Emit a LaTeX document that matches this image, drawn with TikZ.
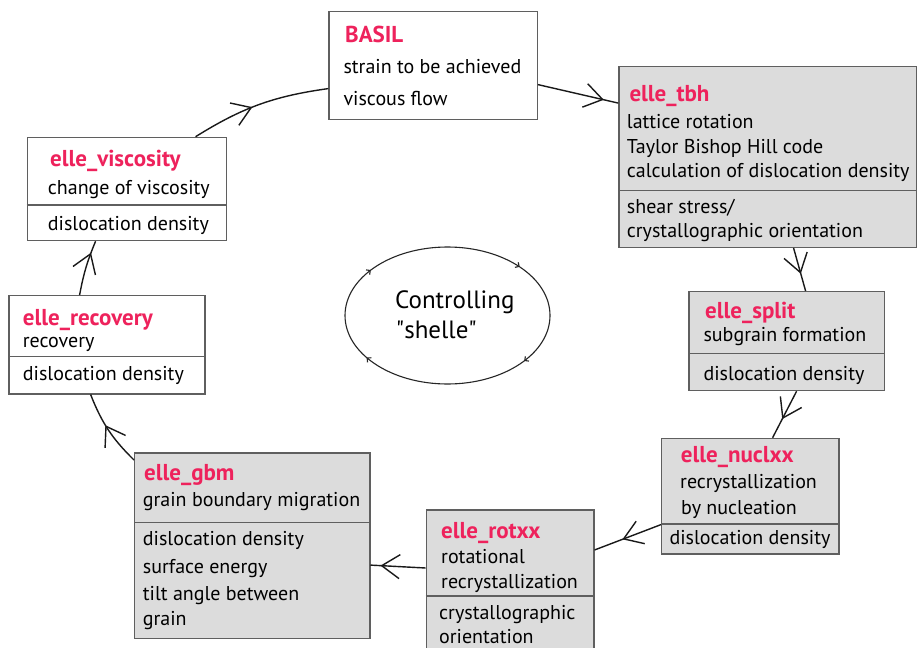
\documentclass[tikz,border=0pt]{standalone}
\usepackage{fontspec}
\setmainfont{PT Sans}
\usetikzlibrary{arrows.meta,decorations.markings,calc}
\newcommand\myquote{\XeTeXglyph\XeTeXcharglyph"22\relax}
\definecolor{pinkred}{RGB}{238,34,92}
\definecolor{boxgray}{RGB}{220,220,220}
\definecolor{edgegray}{RGB}{95,95,95}
\tikzset{
  box/.style={draw=edgegray, line width=1.2pt, inner sep=0pt, anchor=north west},
  divline/.style={draw=edgegray, line width=1.2pt},
  txt/.style={anchor=base west, inner sep=0pt, text=black, font=\fontsize{20}{24}\selectfont},
  ttl/.style={anchor=base west, inner sep=0pt, text=pinkred, font=\bfseries\fontsize{23}{27}\selectfont},
  bigtxt/.style={anchor=base west, inner sep=0pt, text=black, font=\fontsize{25}{29}\selectfont},
  conn/.style={line width=1.4pt, draw=black!90},
  flowmark/.style={postaction={decorate}, decoration={markings, mark=at position #1 with {\arrow{Straight Barb[length=18pt,width=24pt]}}}},
  ellmark/.style={postaction={decorate}, decoration={markings,
     mark=at position 0.10 with {\arrow{Straight Barb[length=3pt,width=6pt]}},
     mark=at position 0.41 with {\arrow{Straight Barb[length=3pt,width=6pt]}},
     mark=at position 0.60 with {\arrow{Straight Barb[length=3pt,width=6pt]}},
     mark=at position 0.89 with {\arrow{Straight Barb[length=3pt,width=6pt]}}}},
}
\begin{document}
\begin{tikzpicture}[x=1pt,y=-1pt]
\path[use as bounding box, fill=white] (0,0) rectangle (917,647);
\begin{scope}
\clip (0,0) rectangle (917,647);
% boxes
\node[box, fill=white,   minimum width=208.4, minimum height=108.6] (basil) at (328.3,10.7) {};
\node[box, fill=boxgray, minimum width=297.7, minimum height=181]   (tbh)   at (618.3,65.7) {};
\node[box, fill=white,   minimum width=199.3, minimum height=103.3] (visc)  at (26.7,136.7) {};
\node[box, fill=white,   minimum width=196,   minimum height=98.3]  (recov) at (8.3,295) {};
\node[box, fill=boxgray, minimum width=195.7, minimum height=99]    (split) at (688.3,291) {};
\node[box, fill=boxgray, minimum width=177.3, minimum height=115.6] (nucl)  at (661,437.7) {};
\node[box, fill=boxgray, minimum width=167.6, minimum height=160]   (rotxx) at (425.7,509.3) {};
\node[box, fill=boxgray, minimum width=235.3, minimum height=185.4] (gbm)   at (134,452.3) {};
% dividers
\draw[divline] ($(tbh.north west)+(0,125)$) -- ($(tbh.north east)+(0,125)$);
\draw[divline] ($(visc.north west)+(0,68.3)$) -- ($(visc.north east)+(0,68.3)$);
\draw[divline] ($(recov.north west)+(0,61.7)$) -- ($(recov.north east)+(0,61.7)$);
\draw[divline] ($(split.north west)+(0,62.3)$) -- ($(split.north east)+(0,62.3)$);
\draw[divline] ($(nucl.north west)+(0,86.3)$) -- ($(nucl.north east)+(0,86.3)$);
\draw[divline] ($(rotxx.north west)+(0,86.7)$) -- ($(rotxx.north east)+(0,86.7)$);
\draw[divline] ($(gbm.north west)+(0,70)$) -- ($(gbm.north east)+(0,70)$);
% texts
\node[ttl] (basil1) at (345,42.7) {BASIL};
\node[txt] (basil2) at (343.3,74) {strain to be achieved};
\node[txt] (basil3) at (343.3,106) {viscous flow};
\node[ttl] (tbh1) at (629.3,101.7) {elle\_tbh};
\node[txt] (tbh2) at (626.7,128.3) {lattice rotation};
\node[txt] (tbh3) at (626.7,153.3) {Taylor Bishop Hill code};
\node[txt] (tbh4) at (626.7,177.7) {calculation of dislocation density};
\node[txt] (tbh5) at (626.7,213.3) {shear stress/};
\node[txt] (tbh6) at (626.7,237.3) {crystallographic orientation};
\node[ttl] (visc1) at (50,166.7) {elle\_viscosity};
\node[txt] (visc2) at (47.7,194.3) {change of viscosity};
\node[txt] (visc3) at (47.7,230) {dislocation density};
\node[ttl] (recov1) at (22.7,325) {elle\_recovery};
\node[txt] (recov2) at (22.7,347.3) {recovery};
\node[txt] (recov3) at (22.7,380.7) {dislocation density};
\node[ttl] (split1) at (705,318.3) {elle\_split};
\node[txt] (split2) at (703.3,341) {subgrain formation};
\node[txt] (split3) at (703.3,380.7) {dislocation density};
\node[ttl] (nucl1) at (680.7,462.7) {elle\_nuclxx};
\node[txt] (nucl2) at (680,488.3) {recrystallization};
\node[txt] (nucl3) at (681,514.3) {by nucleation};
\node[txt] (nucl4) at (669.3,544.3) {dislocation density};
\node[ttl] (rot1) at (441,538.3) {elle\_rotxx};
\node[txt] (rot2) at (441,563.3) {rotational};
\node[txt] (rot3) at (441,588.3) {recrystallization};
\node[txt] (rot4) at (439,619.3) {crystallographic};
\node[txt] (rot5) at (439,643.3) {orientation};
\node[ttl] (gbm1) at (144,480) {elle\_gbm};
\node[txt] (gbm2) at (142.7,506.7) {grain boundary migration};
\node[txt] (gbm3) at (142.7,545.7) {dislocation density};
\node[txt] (gbm4) at (142.7,573.3) {surface energy};
\node[txt] (gbm5) at (142.7,600.7) {tilt angle between};
\node[txt] (gbm6) at (142.7,625) {grain};
% central ellipse
\coordinate (ellc) at (447.5,315.5);
\draw[line width=1.1pt, draw=black!85, ellmark] (ellc) ellipse [x radius=102.5, y radius=68.5];
\node[bigtxt] (ctl1) at (395,308.3) {Controlling};
\node[bigtxt] (ctl2) at (395.7,338.3) {\myquote shelle\myquote};
% connectors
\draw[conn, flowmark=0.45] ($(visc.north)+(68.65,0)$) to[bend left=12] ($(basil.west)+(0,23)$);
\draw[conn, flowmark=0.82] ($(basil.east)+(0,19)$) -- ($(tbh.west)+(0,-53.7)$);
\draw[conn, flowmark=0.6] ($(tbh.south)+(25.8,0)$) -- ($(split.north)+(18.85,0)$);
\draw[conn, flowmark=0.6] ($(split.south)+(9.85,0)$) -- ($(nucl.north)+(22.35,0)$);
\draw[conn, flowmark=0.58] ($(nucl.west)+(0,28.5)$) -- ($(rotxx.north east)+(0,40.7)$);
\draw[conn, flowmark=0.82] ($(rotxx.north west)+(0,58.7)$) -- ($(gbm.east)+(0,19.5)$);
\draw[conn, flowmark=0.57] ($(gbm.north west)+(0,7.7)$) to[bend left=12] ($(recov.south)+(-16.3,0)$);
\draw[conn, flowmark=0.78] ($(recov.north)+(-27.3,0)$) to[bend left=6] ($(visc.south)+(-31.35,0)$);
\end{scope}
\end{tikzpicture}
\end{document}
